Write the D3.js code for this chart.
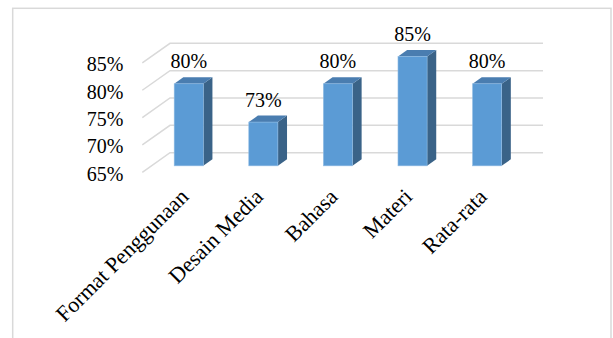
<!DOCTYPE html>
<html><head><meta charset="utf-8">
<script src="https://cdn.jsdelivr.net/npm/d3@7"></script>
<style>html,body{margin:0;padding:0;background:#fff;}svg{display:block;}</style>
</head><body>
<script>
const categories = ["Format Penggunaan", "Desain Media", "Bahasa", "Materi", "Rata-rata"];
const values = [80, 73, 80, 85, 80];
const valueLabels = ["80%", "73%", "80%", "85%", "80%"];
const yTicks = [65, 70, 75, 80, 85];
const yTickLabels = ["65%", "70%", "75%", "80%", "85%"];

const W = 613, H = 338;
const svg = d3.select("body").append("svg").attr("width", W).attr("height", H);
const font = "'Times New Roman','Liberation Serif',serif";

// chart border
svg.append("rect").attr("x", 12.7).attr("y", 8.3).attr("width", 598.3).attr("height", 340)
  .attr("fill", "none").attr("stroke", "#d9d9d9").attr("stroke-width", 1.5);

const x = d3.scaleBand().domain(categories).range([170, 543]);
const y = d3.scaleLinear().domain([65, 85]).range([152.7, 43.3]);
const D = [-27.7, 19.6];        // depth vector from back plane to front
const fFront = 0.67, fBack = 0.34;
const bw = x.bandwidth() * 0.39;

// gridlines: back line + floor diagonal
const g = svg.append("g");
yTicks.forEach(t => {
  const yb = y(t);
  g.append("path")
    .attr("d", `M${x.range()[1]},${yb}L${x.range()[0]},${yb}L${x.range()[0] + D[0]},${yb + D[1]}`)
    .attr("fill", "none").attr("stroke", "#d9d9d9").attr("stroke-width", 1.5);
});

// y labels
svg.append("g").selectAll("text").data(yTicks).join("text")
  .attr("x", 123.5).attr("y", d => y(d) + D[1] + 8.5)
  .attr("text-anchor", "end").attr("font-family", font).attr("font-size", 20).attr("fill", "#000")
  .text((d, i) => yTickLabels[i]);

// bars
const dd = [D[0] * (fBack - fFront), D[1] * (fBack - fFront)];
const bars = svg.append("g");
categories.forEach((c, i) => {
  const cx = x(c) + x.bandwidth() / 2 + D[0] * fFront;
  const x0 = cx - bw / 2, x1 = cx + bw / 2;
  const yt = y(values[i]) + D[1] * fFront;
  const yb = y(65) + D[1] * fFront;
  // side
  bars.append("path")
    .attr("d", `M${x1},${yt}L${x1 + dd[0]},${yt + dd[1]}L${x1 + dd[0]},${yb + dd[1]}L${x1},${yb}Z`)
    .attr("fill", "#3A6388");
  // top
  bars.append("path")
    .attr("d", `M${x0},${yt}L${x1},${yt}L${x1 + dd[0]},${yt + dd[1]}L${x0 + dd[0]},${yt + dd[1]}Z`)
    .attr("fill", "#4A7DB0");
  // front
  bars.append("rect").attr("x", x0).attr("y", yt).attr("width", bw).attr("height", yb - yt)
    .attr("fill", "#5B9BD5").attr("stroke", "#8fbbe3").attr("stroke-width", 0.6);
  // value label
  svg.append("text").attr("x", cx).attr("y", yt - 15.5)
    .attr("text-anchor", "middle").attr("font-family", font).attr("font-size", 20).attr("fill", "#000")
    .text(valueLabels[i]);
  // category label
  svg.append("text")
    .attr("transform", `translate(${cx + 1},${198}) rotate(-45)`)
    .attr("text-anchor", "end").attr("font-family", font).attr("font-size", 22).attr("fill", "#000")
    .text(c);
});
</script>
</body></html>
